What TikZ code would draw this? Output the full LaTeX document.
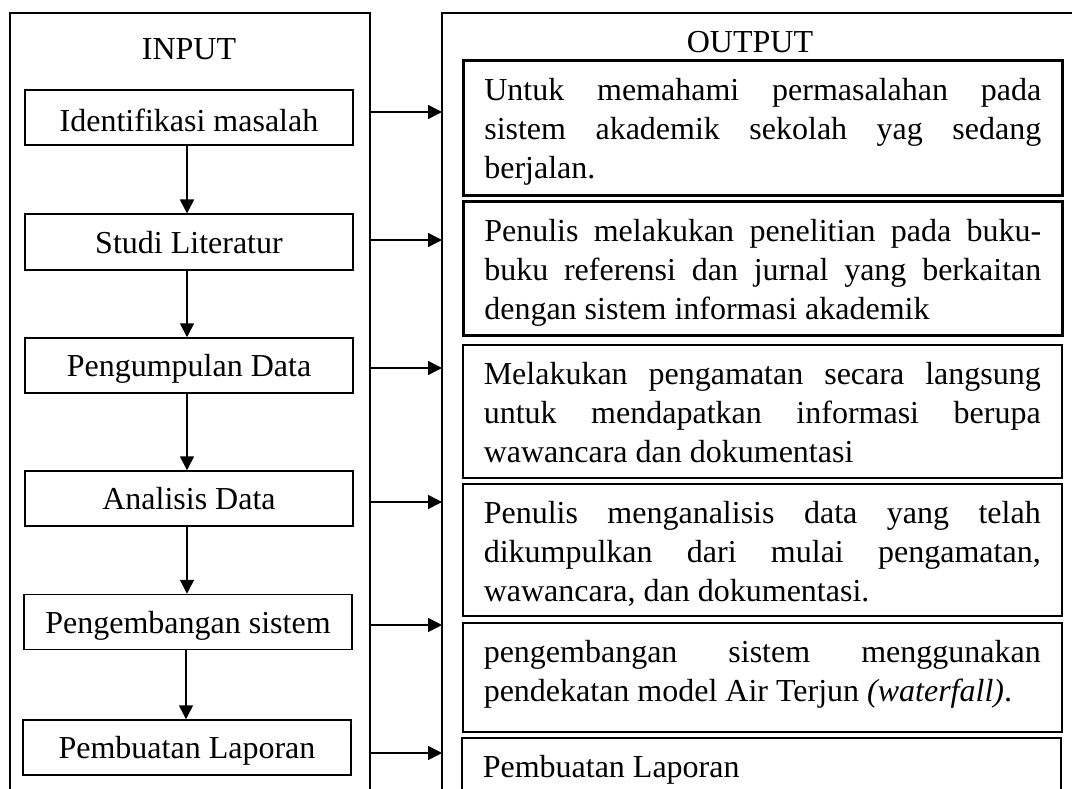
\documentclass[tikz,border=0pt]{standalone}
\usepackage{fontspec}
\setmainfont{Liberation Serif}
\usetikzlibrary{arrows.meta}

% text of an output box, top aligned in a box of given height
\newcommand{\outtext}[2]{\parbox[c][#1][t]{557pt}{\pretolerance=10000\tolerance=10000\rule{0pt}{40pt}#2}}

\begin{document}
\begin{tikzpicture}[x=1pt, y=-1pt,
    every node/.style={font=\fontsize{32}{39}\selectfont},
    frame/.style={line width=2.2pt},
    inbox/.style={draw, line width=1.5pt, minimum width=328pt, minimum height=55pt, inner sep=0pt, text height=30.5pt, text depth=8.5pt},
    outbox/.style={draw, line width=1.5pt, anchor=north west, inner xsep=21pt, inner ysep=0pt},
    flow/.style={line width=1.6pt, -{Triangle[length=14pt,width=14pt]}}]
    \useasboundingbox (0,0) rectangle (1072,789);
    \clip (0,0) rectangle (1072,789);

    % Frames
    \draw[frame] (10,800) -- (10,13) -- (370,13) -- (370,800);
    \draw[frame] (442,800) -- (442,13) -- (1090,13);

    % Input column
    \node (intitle) at (189,49) {INPUT};
    \node[inbox, line width=2pt, text height=34pt, text depth=5pt] (i1) at (189,117.5) {Identifikasi masalah};
    \node[inbox, line width=2pt] (i2) at (189,242) {Studi Literatur};
    \node[inbox] (i3) at (189,365.5) {Pengumpulan Data};
    \node[inbox] (i4) at (189,498.5) {Analisis Data};
    \node[inbox] (i5) at (188,622) {Pengembangan sistem};
    \node[inbox] (i6) at (187,747.5) {Pembuatan Laporan};

    \foreach \a/\b in {i1/i2, i2/i3, i3/i4, i4/i5, i5/i6}
        \draw[flow] ([xshift=-2pt]\a.south) -- ([xshift=-2pt]\a.south |- \b.north);

    % Output column
    \node (outtitle) at (750,42) {OUTPUT};
    \node[outbox, line width=2.6pt] (o1) at (462,59) {\outtext{135pt}{Untuk memahami permasalahan pada\linebreak sistem akademik sekolah yag sedang\linebreak berjalan.}};
    \node[outbox, line width=2.6pt] (o2) at (462,200) {\outtext{134pt}{Penulis melakukan penelitian pada buku-\linebreak buku referensi dan jurnal yang berkaitan\linebreak dengan sistem informasi akademik}};
    \node[outbox] (o3) at (462,344) {\outtext{133pt}{Melakukan pengamatan secara langsung\linebreak untuk mendapatkan informasi berupa\linebreak wawancara dan dokumentasi}};
    \node[outbox] (o4) at (462,483) {\outtext{132pt}{Penulis menganalisis data yang telah\linebreak dikumpulkan dari mulai pengamatan,\linebreak wawancara, dan dokumentasi.}};
    \node[outbox] (o5) at (462,622) {\outtext{109pt}{pengembangan sistem menggunakan\linebreak pendekatan model Air Terjun \textit{(waterfall)}.}};
    \node[outbox] (o6) at (461,737) {\outtext{80pt}{Pembuatan Laporan}};

    % Input to output
    \foreach \k/\y in {1/112, 2/240, 3/368, 4/502, 5/625, 6/753} {
        \coordinate (from\k) at (370,\y);
        \coordinate (to\k) at (442,\y);
        \draw[flow] (from\k) -- (to\k);
    }
\end{tikzpicture}
\end{document}
